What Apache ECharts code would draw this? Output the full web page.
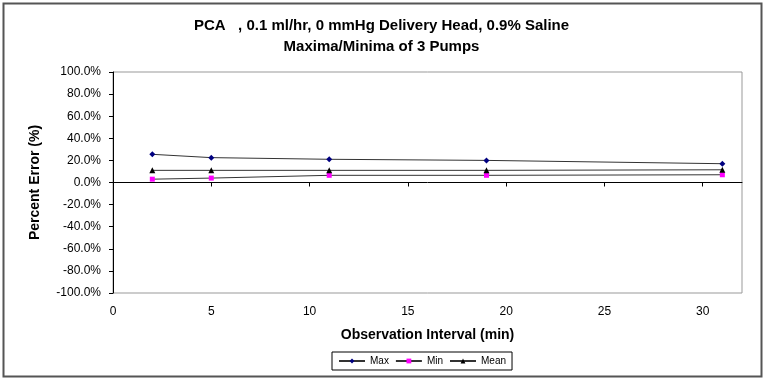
<!DOCTYPE html>
<html>
<head>
<meta charset="utf-8">
<script src="https://cdn.jsdelivr.net/npm/echarts@6/dist/echarts.min.js"></script>
<style>
  html, body { margin: 0; padding: 0; background: #fff; }
  #chart { width: 763px; height: 379px; }
</style>
</head>
<body>
<div id="chart"></div>
<script>
// observation times (min)
const minutes = [2, 5, 11, 19, 31]
// percent error per series
const maxVals = [25.5, 22.5, 21, 20, 17]
const minVals = [3, 4, 6.5, 6.5, 7]
const meanVals = [11, 11, 11, 11, 11.5]
const xTicks = [0, 5, 10, 15, 20, 25, 30]
const yTicks = [-100, -80, -60, -40, -20, 0, 20, 40, 60, 80, 100]

const font = 'Liberation Sans, Arial, sans-serif'

function pairs(vals) {
  return minutes.map((m, i) => [m, vals[i]])
}

const chart = echarts.init(document.getElementById('chart'))

chart.setOption({
  animation: false,
  textStyle: { fontFamily: font },
  title: {
    text: 'PCA   , 0.1 ml/hr, 0 mmHg Delivery Head, 0.9% Saline\nMaxima/Minima of 3 Pumps',
    left: 'center',
    top: 10,
    textStyle: { fontSize: 15, fontWeight: 'bold', color: '#000', lineHeight: 21, fontFamily: font }
  },
  graphic: [{
    type: 'rect',
    shape: { x: 3.5, y: 3.5, width: 758, height: 373 },
    style: { fill: 'none', stroke: '#555', lineWidth: 2 },
    silent: true
  }],
  legend: {
    left: 332,
    top: 352,
    itemWidth: 26,
    itemHeight: 6,
    itemGap: 6,
    padding: [4, 6],
    borderColor: '#000',
    borderWidth: 1,
    borderRadius: 0,
    textStyle: { fontSize: 10, color: '#000', fontFamily: font },
    data: ['Max', 'Min', 'Mean']
  },
  grid: {
    left: 113,
    top: 72,
    right: 21,
    bottom: 86,
    show: true,
    borderColor: '#999',
    borderWidth: 1
  },
  xAxis: [{
    type: 'value',
    min: 0,
    max: 32,
    interval: 5,
    axisLine: { onZero: true, lineStyle: { color: '#000', width: 1 } },
    axisTick: { show: true, length: 4, customValues: xTicks, lineStyle: { color: '#000' } },
    axisLabel: { show: false },
    splitLine: { show: false }
  }, {
    type: 'value',
    position: 'bottom',
    min: 0,
    max: 32,
    interval: 5,
    name: 'Observation Interval (min)',
    nameLocation: 'middle',
    nameGap: 35,
    nameTextStyle: { fontSize: 14, fontWeight: 'bold', color: '#000', fontFamily: font },
    axisLine: { show: false, onZero: false },
    axisTick: { show: false },
    axisLabel: {
      margin: 13,
      fontSize: 12,
      color: '#000',
      customValues: xTicks,
      formatter: v => String(v)
    },
    splitLine: { show: false }
  }],
  yAxis: {
    type: 'value',
    min: yTicks[0],
    max: yTicks[yTicks.length - 1],
    interval: 20,
    name: 'Percent Error (%)',
    nameLocation: 'middle',
    nameGap: 71,
    nameTextStyle: { fontSize: 14, fontWeight: 'bold', color: '#000', fontFamily: font },
    axisLine: { show: true, lineStyle: { color: '#000' } },
    axisTick: { show: true, length: 4, lineStyle: { color: '#000' } },
    axisLabel: {
      fontSize: 12,
      color: '#000',
      margin: 12,
      formatter: v => v.toFixed(1) + '%'
    },
    splitLine: { show: false }
  },
  series: [{
    name: 'Max',
    type: 'line',
    data: pairs(maxVals),
    symbol: 'diamond',
    symbolSize: 6,
    itemStyle: { color: '#000080' },
    lineStyle: { color: '#333', width: 1 }
  }, {
    name: 'Min',
    type: 'line',
    data: pairs(minVals),
    symbol: 'rect',
    symbolSize: 5,
    itemStyle: { color: '#ff00ff' },
    lineStyle: { color: '#333', width: 1 }
  }, {
    name: 'Mean',
    type: 'line',
    data: pairs(meanVals),
    symbol: 'triangle',
    symbolSize: 6,
    itemStyle: { color: '#000' },
    lineStyle: { color: '#333', width: 1 }
  }]
})
</script>
</body>
</html>
